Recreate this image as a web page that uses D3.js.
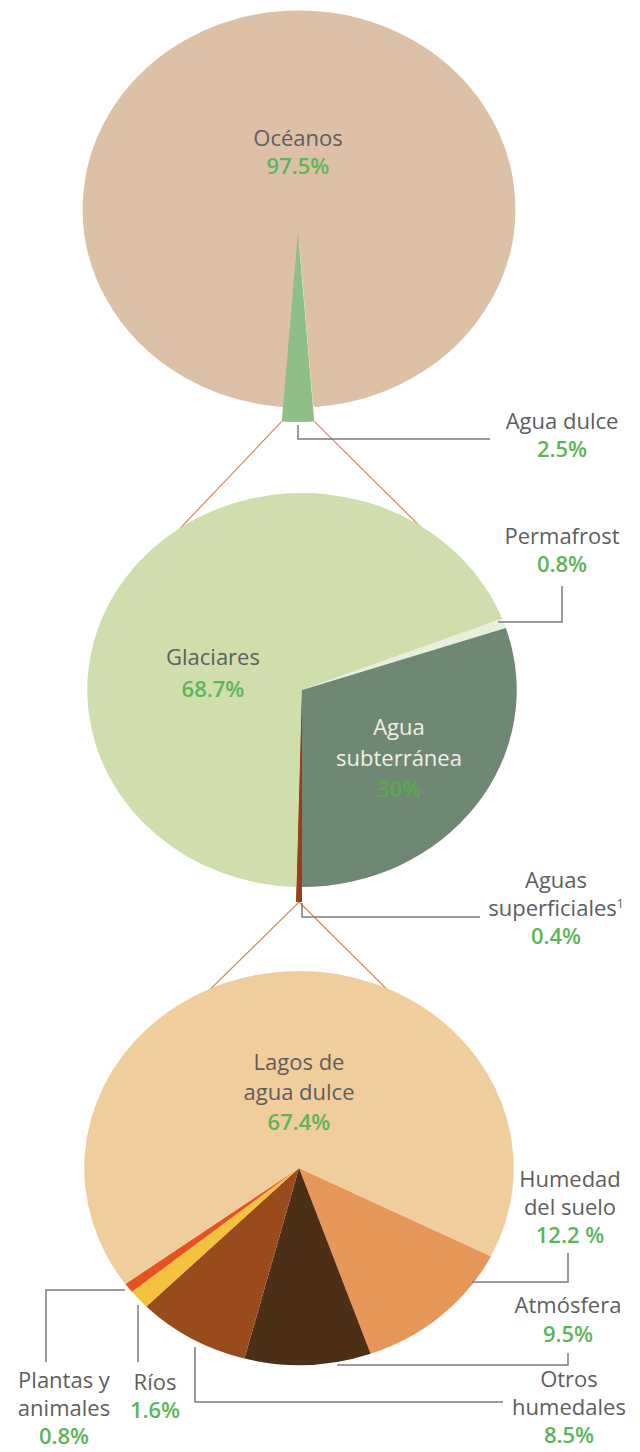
<!DOCTYPE html>
<html lang="es">
<head>
<meta charset="UTF-8">
<title>Distribución del agua en la Tierra</title>
<script src="https://d3js.org/d3.v7.min.js"></script>
<style>
  body { margin: 0; background: #fff; }
  svg text { font-family: "Open Sans", sans-serif; }
  .lbl { fill: #5e5e5e; font-size: 22px; }
  .pct { fill: #5db45a; font-size: 22px; font-weight: 600; }
</style>
</head>
<body>
<script>
// ---- data ----
const oceanCats = ['Agua dulce', 'Océanos'];
const oceanVals = [2.5, 97.5];
const oceanPct = ['2.5%', '97.5%'];

const freshCats = ['Aguas superficiales', 'Glaciares', 'Permafrost', 'Agua subterránea'];
const freshVals = [0.4, 68.7, 0.8, 30.1];
const freshPct = ['0.4%', '68.7%', '0.8%', '30%'];

const surfCats = ['Humedad del suelo', 'Atmósfera', 'Otros humedales', 'Ríos', 'Plantas y animales', 'Lagos de agua dulce'];
const surfVals = [12.2, 9.5, 8.5, 1.6, 0.8, 67.4];
const surfPct = ['12.2 %', '9.5%', '8.5%', '1.6%', '0.8%', '67.4%'];

// ---- styles ----
const oceanColors = ['#8fbf86', '#dcc1a6'];
const freshColors = ['#9b3d17', '#cfdeac', '#e9f0da', '#6f8873'];
const surfColors = ['#e8975b', '#4b2f16', '#9a4b1c', '#f4c23e', '#e6521f', '#f0cd9d'];

const W = 640, H = 1452;
const SX = 1.09;      // the pies are drawn slightly wider than tall
const R = 197;

const svg = d3.select('body').append('svg')
    .attr('width', W)
    .attr('height', H);

function pt(cx, cy, r, a) {
    return [cx + SX * r * Math.sin(a), cy - r * Math.cos(a)];
}
const deg = Math.PI / 180;

// pie layouts
const pie1 = d3.pie().sort(null)
    .startAngle(Math.PI - Math.PI * oceanVals[0] / d3.sum(oceanVals))
    .endAngle(3 * Math.PI - Math.PI * oceanVals[0] / d3.sum(oceanVals));
const arcs1 = pie1(oceanVals);

const pie2 = d3.pie().sort(null).startAngle(Math.PI).endAngle(3 * Math.PI);
const arcs2 = pie2(freshVals);

const start3 = 116.6 * deg;
const pie3 = d3.pie().sort(null).startAngle(start3).endAngle(start3 + 2 * Math.PI);
const arcs3 = pie3(surfVals);

const c1 = [299, 209], w1 = [298, 232], c2 = [302, 690], c3 = [299, 1168];

// ---- orange connectors (drawn under the pies) ----
const links = svg.append('g')
    .attr('stroke', '#d98b5c')
    .attr('stroke-width', 1.2)
    .attr('fill', 'none');

const wa = pt(w1[0], w1[1], 190, arcs1[0].endAngle);
const wb = pt(w1[0], w1[1], 190, arcs1[0].startAngle);
links.append('line').attr('x1', wa[0]).attr('y1', wa[1])
    .attr('x2', pt(c2[0], c2[1], R - 2, -36.5 * deg)[0]).attr('y2', pt(c2[0], c2[1], R - 2, -36.5 * deg)[1]);
links.append('line').attr('x1', wb[0]).attr('y1', wb[1])
    .attr('x2', pt(c2[0], c2[1], R - 2, 35 * deg)[0]).attr('y2', pt(c2[0], c2[1], R - 2, 35 * deg)[1]);

const sb = pt(c2[0], c2[1], 212, (arcs2[0].startAngle + arcs2[0].endAngle) / 2);
[-25.5, 25].forEach(a => {
    const e = pt(c3[0], c3[1], R - 2, a * deg);
    links.append('line').attr('x1', sb[0]).attr('y1', sb[1]).attr('x2', e[0]).attr('y2', e[1]);
});

// ---- pie 1 ----
const g1 = svg.append('g').attr('transform', `translate(${c1[0]},${c1[1]}) scale(${SX},1)`);
g1.append('path')
    .datum(arcs1[1])
    .attr('d', d3.arc().innerRadius(0).outerRadius(R - 1))
    .attr('fill', oceanColors[1])
    .attr('stroke', oceanColors[1])
    .attr('stroke-width', 5)
    .attr('stroke-linejoin', 'round');
svg.append('g').attr('transform', `translate(${w1[0]},${w1[1]}) scale(${SX},1)`)
    .append('path')
    .datum(arcs1[0])
    .attr('d', d3.arc().innerRadius(0).outerRadius(190))
    .attr('fill', oceanColors[0]);

// ---- pie 2 ----
const g2 = svg.append('g').attr('transform', `translate(${c2[0]},${c2[1]}) scale(${SX},1)`);
g2.selectAll('path')
    .data(arcs2)
    .join('path')
    .attr('d', (d, i) => d3.arc().innerRadius(0).outerRadius(i === 0 ? 212 : R)(d))
    .attr('fill', (d, i) => freshColors[i]);
// keep the thin surface-water strip on top
g2.append('path')
    .datum(arcs2[0])
    .attr('d', d3.arc().innerRadius(0).outerRadius(212))
    .attr('fill', freshColors[0]);

// ---- pie 3 ----
const g3 = svg.append('g').attr('transform', `translate(${c3[0]},${c3[1]}) scale(${SX},1)`);
g3.selectAll('path')
    .data(arcs3)
    .join('path')
    .attr('d', d3.arc().innerRadius(0).outerRadius(R))
    .attr('fill', (d, i) => surfColors[i]);

// ---- leader lines ----
const leaders = [
    [[298, 425], [298, 439], [490, 439]],            // Agua dulce
    [[498, 622], [562, 622], [562, 586]],            // Permafrost
    [[302, 903], [302, 917], [480, 917]],            // Aguas superficiales
    [[472, 1282], [568, 1282], [568, 1253]],         // Humedad del suelo
    [[337, 1365], [568, 1365], [568, 1353]],         // Atmósfera
    [[195, 1347], [195, 1402], [503, 1402]],         // Otros humedales
    [[138, 1305], [138, 1362]],                      // Ríos
    [[125, 1290], [46, 1290], [46, 1362]]            // Plantas y animales
];
svg.append('g')
    .selectAll('path')
    .data(leaders)
    .join('path')
    .attr('d', d3.line())
    .attr('fill', 'none')
    .attr('stroke', '#7b7b7b')
    .attr('stroke-width', 1.5);

// ---- labels ----
// lines: name split over rows, y: baseline of first row
function label(lines, pct, x, y, opts = {}) {
    const step = opts.step || 28;
    const t = svg.append('g');
    lines.forEach((s, i) => {
        const tx = t.append('text')
            .attr('class', 'lbl')
            .attr('x', x)
            .attr('y', y + i * step)
            .attr('text-anchor', 'middle')
            .style('fill', opts.color || null)
            .text(s);
        if (opts.sup && i === lines.length - 1) {
            tx.append('tspan').attr('dy', -8).style('font-size', '12px').text(opts.sup);
        }
    });
    t.append('text')
        .attr('class', 'pct')
        .attr('x', x)
        .attr('y', y + lines.length * step)
        .attr('text-anchor', 'middle')
        .style('fill', opts.pctColor || null)
        .text(pct);
}

label([oceanCats[1]], oceanPct[1], 298, 146);
label([oceanCats[0]], oceanPct[0], 562, 429);
label(['Permafrost'], freshPct[2], 562, 544);
label([freshCats[1]], freshPct[1], 213, 665, { step: 32 });
label(['Agua', 'subterránea'], freshPct[3], 399, 735, { step: 31, color: '#eef0e4', pctColor: '#5aa84e' });
label(['Aguas', 'superficiales'], freshPct[0], 556, 888, { sup: '1' });
label(['Lagos de', 'agua dulce'], surfPct[5], 299, 1070, { step: 30 });
label(['Humedad', 'del suelo'], surfPct[0], 570, 1187);
label([surfCats[1]], surfPct[1], 568, 1313, { step: 29 });
label(['Otros', 'humedales'], surfPct[2], 569, 1387);
label([surfCats[3]], surfPct[3], 155, 1390);
label(['Plantas y', 'animales'], surfPct[4], 64, 1388);
</script>
</body>
</html>
